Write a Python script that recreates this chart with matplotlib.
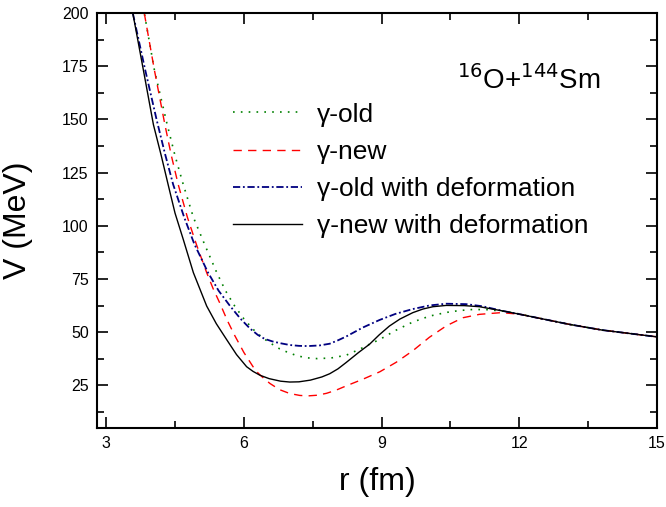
import matplotlib
matplotlib.use('Agg')
import matplotlib.pyplot as plt
from matplotlib.ticker import MultipleLocator

plt.rcParams['font.family'] = ['Liberation Sans', 'DejaVu Sans']

# --- data (r in fm, V in MeV) ---
# gamma-old
r_old = [3.65, 3.83, 4.05, 4.33, 4.5, 4.68, 4.9, 5.14, 5.41, 5.6, 5.8, 6.0, 6.2, 6.35, 6.5, 6.65,
         6.78, 6.93, 7.15, 7.36, 7.6, 7.9, 8.23, 8.52, 8.74, 8.96, 9.3, 9.68, 10.05, 10.41, 10.7,
         10.99, 11.3, 11.64, 12.0, 12.36, 13.09, 13.81, 14.97]
V_old = [222, 200, 173.3, 147.5, 133, 119.4, 104, 91.5, 78, 69.5, 62.3, 56.3, 51.4, 48.5, 46.0, 43.9,
         42.2, 40.8, 39.0, 38.0, 37.6, 37.9, 39.2, 42.0, 44.4, 46.6, 50.8, 54.8, 57.6, 59.3, 60.2,
         60.7, 60.6, 59.9, 58.6, 56.9, 53.7, 51.0, 47.9]

# gamma-new
r_new = [3.65, 3.83, 4.05, 4.28, 4.42, 4.57, 4.77, 4.97, 5.19, 5.33, 5.48, 5.64, 5.8, 6.0, 6.2,
         6.31, 6.45, 6.57, 6.78, 7.0, 7.22, 7.4, 7.6, 7.8, 8.0, 8.23, 8.6, 8.96, 9.32, 9.68, 10.04,
         10.41, 10.77, 11.13, 11.6, 12.0, 12.36, 13.09, 13.81, 14.97]
V_new = [222, 200, 173.3, 147.5, 133, 119.4, 104, 91.0, 78, 70.5, 63.5, 55.5, 48.5, 40.5, 33.8,
         30.8, 28.0, 25.9, 23.0, 21.2, 20.3, 20.1, 20.4, 21.3, 22.7, 24.8, 28.0, 31.4, 35.9, 41.3, 47.6,
         53.0, 56.8, 58.4, 59.2, 58.5, 56.9, 53.7, 51.0, 47.9]

# gamma-old with deformation
r_old_def = [3.4, 3.58, 3.85, 4.1, 4.28, 4.46, 4.7, 4.92, 5.22, 5.45, 5.7, 5.92, 6.13, 6.3, 6.45,
             6.62, 6.78, 7.0, 7.2, 7.4, 7.65, 7.87, 8.05, 8.23, 8.59, 8.96, 9.3, 9.68, 10.05, 10.41,
             10.84, 11.2, 11.64, 12.0, 12.36, 13.09, 13.81, 14.97]
V_old_def = [222, 200, 173.3, 149.8, 134, 119.4, 104, 91.5, 78, 69.5, 62.3, 56.5, 51.8, 48.8, 46.9,
             45.7, 44.9, 44.0, 43.6, 43.5, 43.8, 44.6, 46.2, 48.0, 52.2, 55.8, 58.6, 60.9, 62.6, 63.4,
             63.2, 62.2, 60.0, 58.5, 56.9, 53.7, 51.0, 47.9]

# gamma-new with deformation
r_new_def = [3.4, 3.58, 3.81, 4.03, 4.2, 4.35, 4.5, 4.68, 4.9, 5.19, 5.4, 5.62, 5.84, 6.06, 6.2,
             6.35, 6.55, 6.8, 7.0, 7.2, 7.45, 7.7, 7.87, 8.05, 8.23, 8.5, 8.74, 8.95, 9.17, 9.4, 9.68,
             9.9, 10.12, 10.41, 10.8, 11.13, 11.64, 12.0, 12.36, 13.09, 13.81, 14.97]
V_new_def = [222, 200, 173.3, 147.5, 133, 119.4, 106, 93.6, 78, 62.3, 54, 46.7, 39.5, 33.8, 31.6,
             29.8, 28.2, 27.0, 26.6, 26.7, 27.5, 29.0, 30.5, 32.8, 35.8, 40.5, 44.4, 48.8, 52.9, 56.2, 59.2,
             60.9, 62.0, 62.6, 62.5, 62.0, 60.0, 58.5, 56.9, 53.7, 51.0, 47.9]

labels = ['\u03b3-old', '\u03b3-new', '\u03b3-old with deformation', '\u03b3-new with deformation']

fig = plt.figure(figsize=(6.66, 5.07), dpi=100)
ax = fig.add_axes([0.1456, 0.1558, 0.8409, 0.8186])

ax.plot(r_old, V_old, color='#008000', linestyle=(0, (1, 3.7)), lw=1.2, label=labels[0])
ax.plot(r_new, V_new, color='#ff0000', linestyle=(0, (6, 4.5)), lw=1.0, label=labels[1])
ax.plot(r_old_def, V_old_def, color='#000080', linestyle=(0, (4, 1.5, 1, 1.5)), lw=1.3, label=labels[2])
ax.plot(r_new_def, V_new_def, color='black', linestyle='-', lw=1.0, label=labels[3])

ax.set_xlim(2.8, 15)
ax.set_ylim(5, 200)
ax.set_xticks([3, 6, 9, 12, 15])
ax.set_yticks([25, 50, 75, 100, 125, 150, 175, 200])
ax.xaxis.set_minor_locator(MultipleLocator(1.5))
ax.yaxis.set_minor_locator(MultipleLocator(12.5))
ax.tick_params(which='both', direction='in', top=True, right=True, labelsize=11.5, width=1.2)
ax.tick_params(which='major', length=8, pad=6)
ax.tick_params(which='minor', length=5)
for s in ax.spines.values():
    s.set_linewidth(1.5)

ax.set_xlabel('r (fm)', fontsize=23)
ax.set_ylabel('V (MeV)', fontsize=23)
ax.xaxis.set_label_coords(0.5, -0.095)
ax.yaxis.set_label_coords(-0.115, 0.5)

ax.text(0.642, 0.817, r'$^{16}$O+$^{144}$Sm', transform=ax.transAxes, fontsize=20, va='baseline')

leg = ax.legend(loc='upper left', bbox_to_anchor=(0.243, 0.784), frameon=False, fontsize=19,
                handlelength=2.6, handletextpad=0.57, labelspacing=0.5, borderpad=0,
                borderaxespad=0)

fig.savefig('out.png', dpi=100)
